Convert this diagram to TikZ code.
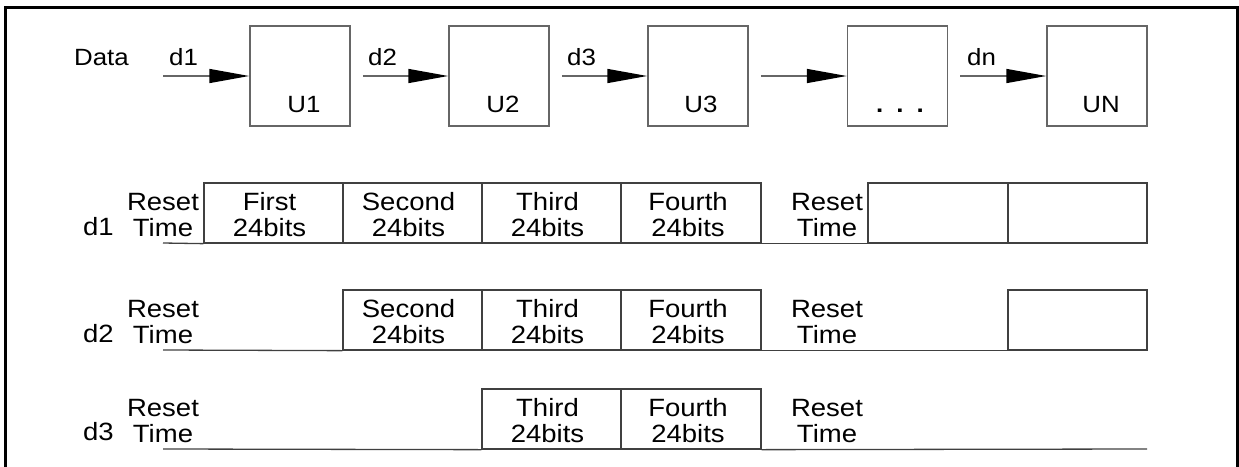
\documentclass[tikz,border=0pt]{standalone}
\usepackage{fontspec}
\setmainfont[FakeStretch=1.1]{Liberation Sans}
\usetikzlibrary{arrows.meta}
\begin{document}
\begin{tikzpicture}[x=1pt,y=-1pt,
  ubox/.style={draw=black!60, line width=1.5pt, minimum width=100pt, minimum height=100pt, inner sep=0pt},
  toptxt/.style={inner sep=0pt, anchor=base, font=\fontsize{23.5}{27}\selectfont},
  arr/.style={draw=black!60, line width=1.5pt, -{Triangle[length=40pt,width=14pt,color=black]}},
  cell/.style={draw=black!75, line width=1.3pt, minimum height=60pt, inner sep=0pt},
  celltxt/.style={inner sep=0pt, align=center, font=\fontsize{25}{26}\selectfont},
  tl/.style={draw=black!75, line width=1.3pt},
  frame/.style={draw=black, line width=3pt}
]
\useasboundingbox (0,0) rectangle (1239,466);
\clip (0,0) rectangle (1239,466);
\draw[frame] (5.5,490) -- (5.5,7.5) -- (1237,7.5) -- (1237,490);

% top row: chain of units
\node[ubox] (U1) at (300,76) {};
\node[ubox] (U2) at (499,76) {};
\node[ubox] (U3) at (698,76) {};
\node[ubox] (U4) at (897.5,76) {};
\node[ubox] (UN) at (1097,76) {};

\node[toptxt] (U1t) at (304,112) {U1};
\node[toptxt] (U2t) at (503,112) {U2};
\node[toptxt] (U3t) at (701,112) {U3};
\node[toptxt] (U4t) at (900,112) {\textbf{.}\hspace{13pt}\textbf{.}\hspace{13pt}\textbf{.}};
\node[toptxt] (UNt) at (1101,112) {UN};

\node[toptxt, anchor=base west] (data) at (74,65) {Data};
\node[toptxt, anchor=base west] (d1t) at (169,65) {d1};
\node[toptxt, anchor=base west] (d2t) at (368,65) {d2};
\node[toptxt, anchor=base west] (d3t) at (567,65) {d3};
\node[toptxt, anchor=base west] (dnt) at (967,65) {dn};

\coordinate (in1) at (163,76);
\draw[arr] (in1) -- (U1.west);
\draw[arr] ([xshift=12pt]U1.east) -- (U2.west);
\draw[arr] ([xshift=12pt]U2.east) -- (U3.west);
\draw[arr] ([xshift=12pt]U3.east) -- (U4.west);
\draw[arr] ([xshift=12pt]U4.east) -- (UN.west);

% row d1
\node[cell, minimum width=139pt] (a1) at (273.5,213) {};
\node[cell, minimum width=139pt] (a2) at (412.5,213) {};
\node[cell, minimum width=139pt] (a3) at (551.5,213) {};
\node[cell, minimum width=140pt] (a4) at (691,213) {};
\node[cell, minimum width=140pt] (a5) at (938,213) {};
\node[cell, minimum width=139pt] (a6) at (1077.5,213) {};
\node[celltxt] (a1t) at ([xshift=-4pt,yshift=-2pt]a1.center) {First\\24bits};
\node[celltxt] (a2t) at ([xshift=-4pt,yshift=-2pt]a2.center) {Second\\24bits};
\node[celltxt] (a3t) at ([xshift=-4pt,yshift=-2pt]a3.center) {Third\\24bits};
\node[celltxt] (a4t) at ([xshift=-3pt,yshift=-2pt]a4.center) {Fourth\\24bits};
\node[celltxt] (r1a) at (163,215) {Reset\\Time};
\node[celltxt] (r1b) at (827,215) {Reset\\Time};
\node[celltxt, anchor=base] (l1) at (98.5,235) {d1};
\coordinate (s1) at (163,243);
\draw[tl] (s1) -- (a1.south west);
\draw[tl] (a4.south east) -- (a5.south west);

% row d2
\node[cell, minimum width=139pt] (b2) at (412.5,320) {};
\node[cell, minimum width=139pt] (b3) at (551.5,320) {};
\node[cell, minimum width=140pt] (b4) at (691,320) {};
\node[cell, minimum width=139pt] (b6) at (1077.5,320) {};
\node[celltxt] (b2t) at ([xshift=-4pt,yshift=-2pt]b2.center) {Second\\24bits};
\node[celltxt] (b3t) at ([xshift=-4pt,yshift=-2pt]b3.center) {Third\\24bits};
\node[celltxt] (b4t) at ([xshift=-3pt,yshift=-2pt]b4.center) {Fourth\\24bits};
\node[celltxt] (r2a) at (163,322) {Reset\\Time};
\node[celltxt] (r2b) at (827,322) {Reset\\Time};
\node[celltxt, anchor=base] (l2) at (98.5,342) {d2};
\coordinate (s2) at (163,350);
\draw[tl] (s2) -- (b2.south west);
\draw[tl] (b4.south east) -- (b6.south west);

% row d3
\node[cell, minimum width=139pt] (c3) at (551.5,419) {};
\node[cell, minimum width=140pt] (c4) at (691,419) {};
\node[celltxt] (c3t) at ([xshift=-4pt,yshift=-2pt]c3.center) {Third\\24bits};
\node[celltxt] (c4t) at ([xshift=-3pt,yshift=-2pt]c4.center) {Fourth\\24bits};
\node[celltxt] (r3a) at (163,421) {Reset\\Time};
\node[celltxt] (r3b) at (827,421) {Reset\\Time};
\node[celltxt, anchor=base] (l3) at (98.5,440) {d3};
\coordinate (s3) at (163,449);
\coordinate (e3) at (1147,449);
\draw[tl] (s3) -- (c3.south west);
\draw[tl] (c4.south east) -- (e3);
\end{tikzpicture}
\end{document}
